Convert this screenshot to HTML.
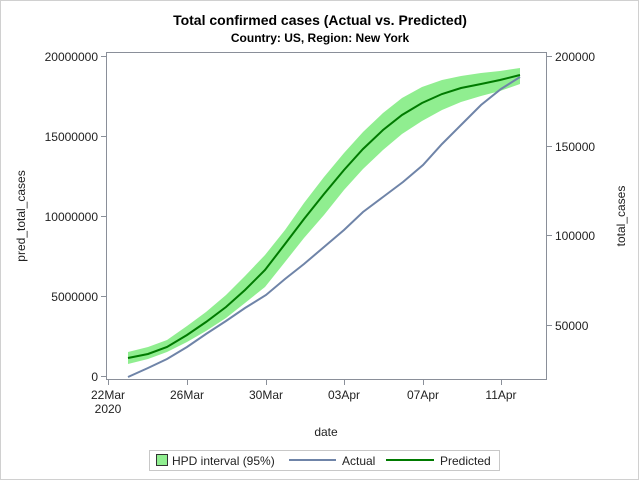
<!DOCTYPE html>
<html><head><style>body{margin:0;background:#fff}</style></head><body>
<svg width="640" height="480" xmlns="http://www.w3.org/2000/svg" font-family="Liberation Sans, sans-serif">
<rect x="0.5" y="0.5" width="638" height="479" fill="#fff" stroke="#d0d0d0"/>
<text x="320" y="25" text-anchor="middle" font-size="14" font-weight="bold">Total confirmed cases (Actual vs. Predicted)</text>
<text x="320" y="42" text-anchor="middle" font-size="12" font-weight="bold">Country: US, Region: New York</text>
<polygon fill="#90ee90" points="128,352 148,347 167,340 187,326 206,312 226,295 245,276 265,255 285,230 304,203 324,177 344,153 363,132 383,113 402,98 422,87 442,80 461,76 481,73 500,71 520,68 520,84 500,91 481,96 461,102 442,110 422,121 402,134 383,150 363,169 344,190 324,215 304,238 285,262 265,287 245,303 226,318 206,331 187,342 167,352 148,359 128,364"/>
<polyline fill="none" stroke="#6f84a8" stroke-width="2" points="128,377 148,368 167,359 187,347 206,334 226,321 245,308 266,295 285,279 304,264 324,247 344,230 363,212 383,197 403,182 423,165 442,144 462,124 481,105 501,89 520,77"/>
<polyline fill="none" stroke="#007a00" stroke-width="2" points="128,358 148,354 167,347 187,335 206,322 226,307 245,290 265,270 285,244 304,219 324,194 344,170 363,149 383,130 402,115 422,103 442,94 461,88 481,84 500,80 520,75"/>
<rect x="106.5" y="52.5" width="440" height="327" fill="none" stroke="#8a8f99"/>
<g stroke="#8a8f99">
<line x1="101" y1="56.5" x2="106" y2="56.5"/><line x1="101" y1="136.5" x2="106" y2="136.5"/><line x1="101" y1="216.5" x2="106" y2="216.5"/><line x1="101" y1="296.5" x2="106" y2="296.5"/><line x1="101" y1="376.5" x2="106" y2="376.5"/>
<line x1="547" y1="56.5" x2="552" y2="56.5"/><line x1="547" y1="146.5" x2="552" y2="146.5"/><line x1="547" y1="235.5" x2="552" y2="235.5"/><line x1="547" y1="325.5" x2="552" y2="325.5"/>
<line x1="108.5" y1="380" x2="108.5" y2="385"/><line x1="187.5" y1="380" x2="187.5" y2="385"/><line x1="266.5" y1="380" x2="266.5" y2="385"/><line x1="344.5" y1="380" x2="344.5" y2="385"/><line x1="423.5" y1="380" x2="423.5" y2="385"/><line x1="501.5" y1="380" x2="501.5" y2="385"/>
</g>
<g font-size="12" fill="#222" text-anchor="end">
<text x="98" y="61">20000000</text><text x="98" y="141">15000000</text><text x="98" y="221">10000000</text><text x="98" y="301">5000000</text><text x="98" y="381">0</text>
</g>
<g font-size="12" fill="#222">
<text x="555" y="61">200000</text><text x="555" y="151">150000</text><text x="555" y="240">100000</text><text x="555" y="330">50000</text>
</g>
<g font-size="12" fill="#222" text-anchor="middle">
<text x="108" y="399">22Mar</text><text x="108" y="413">2020</text><text x="187" y="399">26Mar</text><text x="266" y="399">30Mar</text><text x="344" y="399">03Apr</text><text x="423" y="399">07Apr</text><text x="501" y="399">11Apr</text>
<text x="326" y="436">date</text>
</g>
<text transform="translate(25,216) rotate(-90)" text-anchor="middle" font-size="12" fill="#222">pred_total_cases</text>
<text transform="translate(625,216) rotate(-90)" text-anchor="middle" font-size="12" fill="#222">total_cases</text>
<rect x="149.5" y="450.5" width="350" height="20" fill="#fff" stroke="#c8c8c8"/>
<rect x="156.5" y="454.5" width="11" height="11" fill="#90ee90" stroke="#333"/>
<text x="172" y="465" font-size="12" fill="#222">HPD interval (95%)</text>
<line x1="289" y1="460" x2="336" y2="460" stroke="#6f84a8" stroke-width="2"/>
<text x="342" y="465" font-size="12" fill="#222">Actual</text>
<line x1="386" y1="460" x2="434" y2="460" stroke="#007a00" stroke-width="2"/>
<text x="440" y="465" font-size="12" fill="#222">Predicted</text>
</svg>
</body></html>
